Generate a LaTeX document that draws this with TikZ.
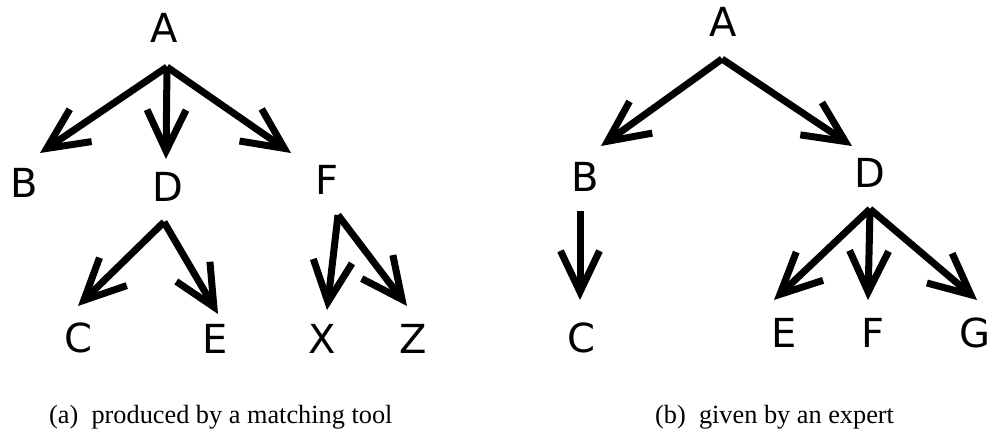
\documentclass[tikz,border=0pt]{standalone}
\usepackage{fontspec}
\setmainfont{Liberation Serif}
\newfontfamily\labfont{DejaVu Sans}
\usetikzlibrary{arrows.meta}
\begin{document}
\begin{tikzpicture}[x=1pt,y=-1pt,
  lab/.style={inner sep=0pt,anchor=base,font=\labfont\fontsize{40}{48}\selectfont},
  captext/.style={inner sep=0pt,anchor=base west,font=\fontsize{26.3}{30}\selectfont},
  edge/.style={line width=7pt,-{Straight Barb[length=41pt,width=39pt]}}]
\useasboundingbox (0,0) rectangle (994,433);
% ---- left tree (a)
\node[lab] (lA) at (164,43) {A};
\node[lab] (lB) at (24,197) {B};
\node[lab] (lD) at (168,202) {D};
\node[lab] (lF) at (327,195) {F};
\node[lab] (lC) at (78,352) {C};
\node[lab] (lE) at (215,353) {E};
\node[lab] (lX) at (322,353) {X};
\node[lab] (lZ) at (413,353) {Z};
\coordinate (lAo) at (167,67);
\coordinate (lBi) at (40,153);
\coordinate (lDi) at (166,159);
\coordinate (lFi) at (291,153);
\coordinate (lDo) at (164,222);
\coordinate (lCi) at (78,306);
\coordinate (lEi) at (218,314);
\coordinate (lFo) at (338,215);
\coordinate (lXi) at (327,310);
\coordinate (lZi) at (407,306);
\draw[edge] (lAo) -- (lBi);
\draw[edge] (lAo) -- (lDi);
\draw[edge] (lAo) -- (lFi);
\draw[edge] (lDo) -- (lCi);
\draw[edge] (lDo) -- (lEi);
\draw[edge] (lFo) -- (lXi);
\draw[edge] (lFo) -- (lZi);
% ---- right tree (b)
\node[lab] (rA) at (723,37) {A};
\node[lab] (rB) at (585,192) {B};
\node[lab] (rD) at (870,188) {D};
\node[lab] (rC) at (581,352) {C};
\node[lab] (rE) at (784,347) {E};
\node[lab] (rF) at (873,347) {F};
\node[lab] (rG) at (975,347) {G};
\coordinate (rAo) at (722,59);
\coordinate (rBi) at (601,146);
\coordinate (rDi) at (852,146);
\coordinate (rBo) at (580,211);
\coordinate (rCi) at (580,300);
\coordinate (rDo) at (870,209);
\coordinate (rEi) at (774,300);
\coordinate (rFi) at (868,300);
\coordinate (rGi) at (977,300);
\draw[edge] (rAo) -- (rBi);
\draw[edge] (rAo) -- (rDi);
\draw[edge] (rBo) -- (rCi);
\draw[edge] (rDo) -- (rEi);
\draw[edge] (rDo) -- (rFi);
\draw[edge] (rDo) -- (rGi);
% ---- captions
\node[captext] (capa) at (49,423) {(a)\hspace{0.5em}produced by a matching tool};
\node[captext] (capb) at (655,423) {(b)\hspace{0.5em}given by an expert};
\end{tikzpicture}
\end{document}
